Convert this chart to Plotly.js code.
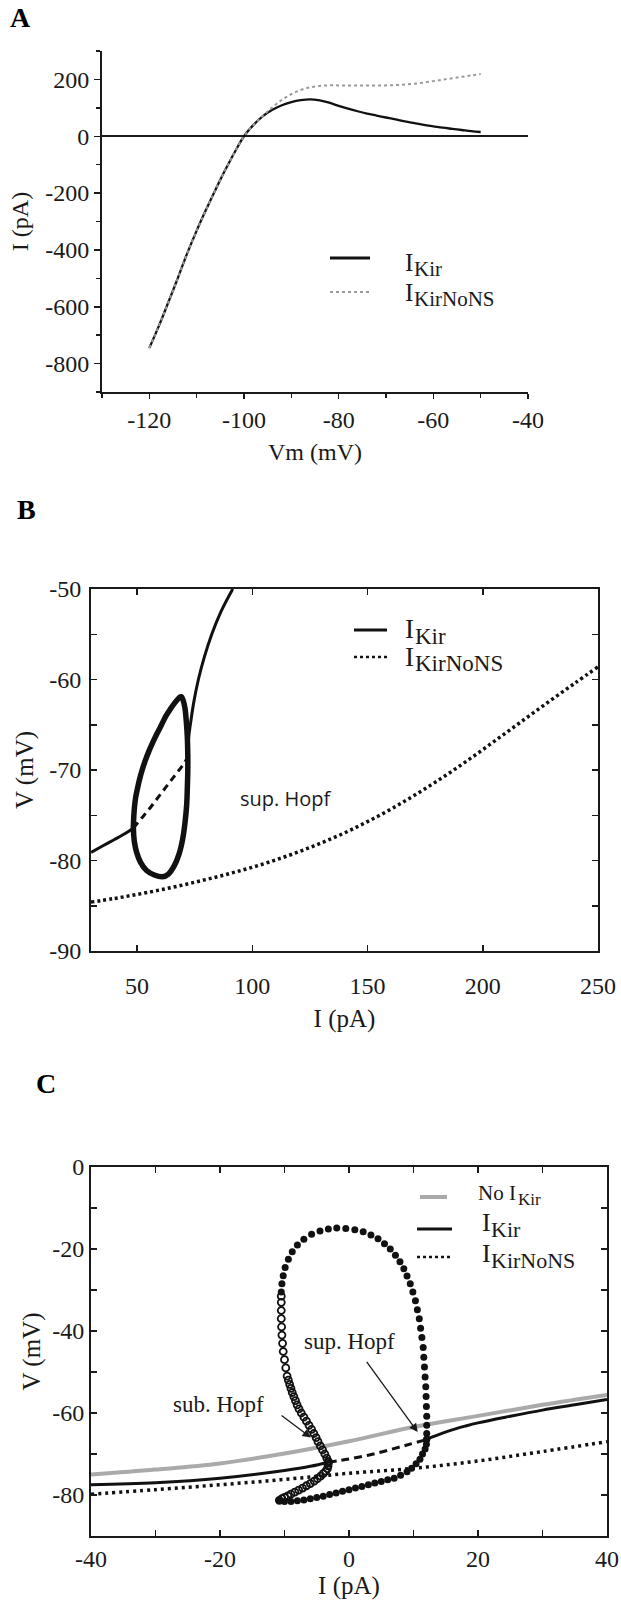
<!DOCTYPE html>
<html>
<head>
<meta charset="utf-8">
<script src="https://cdn.plot.ly/plotly-3.0.1.min.js"></script>
<style>html,body{margin:0;padding:0;background:#fff}</style>
</head>
<body>
<div id="chart" style="width:621px;height:1600px"></div>
<script>
// ---------- Panel A : I-V curves ----------
const vmA = [-120,-118,-116,-114,-112,-110,-108,-106,-104,-102,-100,-98,-96,-94,-92,-90,-88,-86,-84,-82,-80,-78,-76,-74,-72,-70,-68,-66,-64,-62,-60,-58,-56,-54,-52,-50];
const iKirA = [-745,-668,-585,-500,-412,-332,-258,-187,-120,-57,0,40,71,93,109,120,127,130,126,118,107,97,88,80,73,66,59,52,46,40,35,30,26,22,18,15];
const iKirNoNSA = [-745,-668,-585,-500,-412,-332,-258,-187,-120,-57,0,40,72,102,128,148,163,172,177,179,179,179,179,179,179,179,180,182,185,189,194,199,204,209,214,219];

// ---------- Panel B : bifurcation diagram ----------
const bKirLowI = [30,35,40,45,48.4];
const bKirLowV = [-79.1,-78.4,-77.7,-77.0,-76.4];
const bKirUnstI = [48.4,52,55,58,61,64,67,70,72];
const bKirUnstV = [-76.4,-75.3,-74.4,-73.4,-72.4,-71.4,-70.4,-69.4,-68.6];
const bKirUpI = [72,72.4,73.1,74.6,76.6,79.2,82.4,86.4,91.5];
const bKirUpV = [-68.3,-66.4,-65,-62.5,-60,-57.5,-55,-52.5,-50];
const bCycleI = [48.4,48.6,48.9,49.4,50.2,51.1,52.2,53.5,55,56.7,58.6,60.6,62.6,64.6,66.6,68.3,69.2,70,70.8,71.4,71.8,72,72,71.8,71.5,70.8,69.8,68.2,66.1,63.6,61,57.5,54.1,51.5,49.8,48.8,48.4];
const bCycleV = [-76.4,-75,-74,-73,-72,-71,-70,-69,-68,-67,-66,-65,-64,-63.2,-62.5,-62,-61.9,-62.3,-63.2,-64.8,-66.4,-68.3,-70.1,-72,-73.9,-75.8,-77.6,-79.3,-80.6,-81.5,-81.8,-81.6,-81.1,-80.2,-79.1,-77.9,-76.4];
const bNoNSI = [30,40,50,60,70,80,90,100,110,120,130,140,150,160,170,180,190,200,210,220,230,240,250];
const bNoNSV = [-84.6,-84.2,-83.75,-83.25,-82.7,-82.1,-81.45,-80.75,-79.95,-79.05,-78.05,-76.95,-75.7,-74.35,-72.85,-71.25,-69.55,-67.75,-65.9,-64.05,-62.2,-60.4,-58.6];

// ---------- Panel C : bifurcation diagram ----------
const cNoKirI = [-40,-30,-20,-10,0,10,20,30,40];
const cNoKirV = [-75.0,-73.8,-72.3,-69.9,-66.9,-63.4,-60.7,-58.0,-55.6];
const cKirLowI = [-40,-30,-20,-10,-6,-3.2];
const cKirLowV = [-77.5,-77.0,-75.9,-74.0,-73.0,-72.0];
const cKirUnstI = [-3.2,0,3,6,9,12];
const cKirUnstV = [-72.0,-71.2,-70.3,-69.1,-67.8,-66.5];
const cKirUpI = [12,14,16,18,20,25,30,35,40];
const cKirUpV = [-66.4,-65.2,-64.1,-63.2,-62.4,-60.8,-59.3,-58.0,-56.7];
const cNoNSI = [-40,-30,-20,-10,0,10,20,30,40];
const cNoNSV = [-79.8,-78.7,-77.5,-76.2,-74.7,-73.5,-71.7,-69.4,-67.0];
// limit cycle: maximum / minimum of V, stable (filled) and unstable (open)
const cMaxStableI = [-10.5,-10.4,-10.2,-9.9,-9.4,-8.8,-8.0,-7.0,-5.8,-4.5,-3.2,-1.9,-0.5,0.9,2.2,3.4,4.5,5.5,6.4,7.2,7.9,8.5,9.0,9.5,9.9,10.3,10.6,10.9,11.1,11.3,11.5,11.6,11.7,11.8,11.9,11.95,12.0,12.05,12.05,12.05,12.05];
const cMaxStableV = [-30.5,-28.5,-26.5,-24.5,-22.5,-20.7,-19.0,-17.6,-16.4,-15.6,-15.1,-14.9,-15.0,-15.3,-15.8,-16.6,-17.5,-18.7,-20.0,-21.5,-23.1,-24.8,-26.6,-28.5,-30.5,-32.6,-34.8,-37.0,-39.3,-41.6,-44.0,-46.4,-48.8,-51.2,-53.6,-56.0,-58.4,-60.8,-63.0,-65.0,-66.4];
const cMaxUnstI = [-3.2,-3.45,-3.75,-4.1,-4.45,-4.8,-5.1,-5.45,-5.8,-6.2,-6.6,-7.0,-7.4,-7.75,-8.05,-8.3,-8.55,-8.8,-9.0,-9.2,-9.4,-9.6,-9.8,-10.0,-10.2,-10.3,-10.4,-10.45,-10.5,-10.5,-10.5,-10.5];
const cMaxUnstV = [-71.8,-71,-70,-69,-68,-67,-66,-65,-64,-63,-62,-61,-60,-59,-58,-57,-56,-55,-54,-53,-52,-51,-49,-47,-45,-43,-41,-39,-37,-35,-33,-31.5];
const cMinUnstI = [-3.2,-3.25,-3.35,-3.6,-4.0,-4.4,-4.9,-5.4,-6.0,-6.6,-7.2,-7.8,-8.4,-9.0,-9.5,-10.0,-10.4,-10.8];
const cMinUnstV = [-72.2,-72.9,-73.6,-74.2,-74.8,-75.4,-76.0,-76.6,-77.2,-77.75,-78.3,-78.8,-79.3,-79.8,-80.2,-80.6,-80.9,-81.3];
const cMinStableI = [-10.8,-10.0,-9.0,-8.0,-7.0,-6.0,-5.0,-4.0,-3.0,-2.0,-1.0,0.0,1.0,2.0,3.0,4.0,5.0,6.0,7.0,8.0,9.0,9.7,10.4,11.0,11.4,11.8,12.0,12.05];
const cMinStableV = [-81.3,-81.6,-81.6,-81.4,-81.2,-80.9,-80.6,-80.3,-79.9,-79.5,-79.1,-78.7,-78.3,-77.9,-77.5,-77.1,-76.7,-76.3,-75.9,-75.2,-74.3,-73.5,-72.4,-71.3,-70.0,-68.8,-67.6,-66.4];

// ---------- tick labels ----------
const aXTicks = [-120,-100,-80,-60,-40];
const aXLabels = ['-120','-100','-80','-60','-40'];
const aXMinor = [-130,-110,-90,-70,-50];
const aYTicks = [-800,-600,-400,-200,0,200];
const aYLabels = ['-800','-600','-400','-200','0','200'];
const aYMinor = [-900,-700,-500,-300,-100,100,300];
const bXTicks = [50,100,150,200,250];
const bXLabels = ['50','100','150','200','250'];
const bYTicks = [-90,-80,-70,-60,-50];
const bYLabels = ['-90','-80','-70','-60','-50'];
const bYMinor = [-85,-75,-65,-55];
const cXTicks = [-40,-20,0,20,40];
const cXLabels = ['-40','-20','0','20','40'];
const cXMinor = [-30,-10,10,30];
const cYTicks = [-80,-60,-40,-20,0];
const cYLabels = ['-80','-60','-40','-20','0'];
const cYMinor = [-90,-70,-50,-30,-10];

const W = 621, H = 1600;
const px = x => x / W;
const py = y => 1 - y / H;
const SERIF = 'Liberation Serif, Times New Roman, serif';
const INK = '#1a1a1a';

const traces = [
  // A
  {x: vmA, y: iKirA, xaxis:'x', yaxis:'y', mode:'lines', line:{color:'#111', width:2.3, shape:'spline', smoothing:1}, name:'IKir'},
  {x: vmA, y: iKirNoNSA, xaxis:'x', yaxis:'y', mode:'lines', line:{color:'#9a9a9a', width:2, dash:'3px,3px', shape:'spline', smoothing:1}, name:'IKirNoNS'},
  // B
  {x: bNoNSI, y: bNoNSV, xaxis:'x2', yaxis:'y2', mode:'lines', line:{color:'#111', width:3.5, dash:'3px,3px', shape:'spline'}},
  {x: bKirLowI, y: bKirLowV, xaxis:'x2', yaxis:'y2', mode:'lines', line:{color:'#111', width:3, shape:'spline'}},
  {x: bKirUnstI, y: bKirUnstV, xaxis:'x2', yaxis:'y2', mode:'lines', line:{color:'#111', width:3, dash:'7px,5px', shape:'spline'}},
  {x: bKirUpI, y: bKirUpV, xaxis:'x2', yaxis:'y2', mode:'lines', line:{color:'#111', width:3, shape:'spline'}},
  {x: bCycleI, y: bCycleV, xaxis:'x2', yaxis:'y2', mode:'lines', line:{color:'#111', width:5.5, shape:'spline'}},
  // C
  {x: cNoKirI, y: cNoKirV, xaxis:'x3', yaxis:'y3', mode:'lines', line:{color:'#aaaaaa', width:4, shape:'spline'}},
  {x: cNoNSI, y: cNoNSV, xaxis:'x3', yaxis:'y3', mode:'lines', line:{color:'#111', width:3.5, dash:'3px,4px', shape:'spline'}},
  {x: cKirLowI, y: cKirLowV, xaxis:'x3', yaxis:'y3', mode:'lines', line:{color:'#111', width:3, shape:'spline'}},
  {x: cKirUnstI, y: cKirUnstV, xaxis:'x3', yaxis:'y3', mode:'lines', line:{color:'#111', width:3, dash:'8px,5px', shape:'spline'}},
  {x: cKirUpI, y: cKirUpV, xaxis:'x3', yaxis:'y3', mode:'lines', line:{color:'#111', width:3, shape:'spline'}},
  {x: cMinUnstI, y: cMinUnstV, xaxis:'x3', yaxis:'y3', mode:'markers', marker:{symbol:'circle-open', size:7, color:'#111', line:{width:1.8}}},
  {x: cMaxUnstI, y: cMaxUnstV, xaxis:'x3', yaxis:'y3', mode:'markers', marker:{symbol:'circle-open', size:7, color:'#111', line:{width:1.8}}},
  {x: cMaxStableI, y: cMaxStableV, xaxis:'x3', yaxis:'y3', mode:'markers', marker:{symbol:'circle', size:7, color:'#111'}},
  {x: cMinStableI, y: cMinStableV, xaxis:'x3', yaxis:'y3', mode:'markers', marker:{symbol:'circle', size:7, color:'#111'}}
];

function axisBase(extra) {
  return Object.assign({
    showgrid:false, zeroline:false, showline:true, linecolor:INK, linewidth:2,
    tickcolor:INK, tickwidth:1.5, ticks:'outside', ticklen:6,
    tickmode:'array', tickfont:{family:SERIF, size:24, color:INK},
    fixedrange:true
  }, extra);
}
function minorTicks(vals, dir, len) {
  return {tickmode:'array', tickvals:vals, ticks:dir, ticklen:len, tickwidth:1.5, tickcolor:INK};
}
function ttl(text, size, standoff) {
  return {text:text, font:{family:SERIF, size:size, color:INK}, standoff:standoff};
}

// legend text pieces: main letter + subscript, baseline placed explicitly
function txt(text, xPx, baselinePx, size) {
  return {text:text, xref:'paper', yref:'paper', x:px(xPx), y:py(baselinePx - 0.338*size),
          xanchor:'left', yanchor:'middle', showarrow:false, font:{family:SERIF, size:size, color:INK}};
}
function panelLabel(text, xPx, yPx) {
  return {text:'<b>'+text+'</b>', xref:'paper', yref:'paper', x:px(xPx), y:py(yPx),
          xanchor:'center', yanchor:'middle', showarrow:false, font:{family:SERIF, size:28, color:'#000'}};
}

const layout = {
  width: W, height: H,
  margin:{l:0, r:0, t:0, b:0},
  showlegend:false,
  paper_bgcolor:'#ffffff', plot_bgcolor:'rgba(0,0,0,0)',
  font:{family:SERIF, color:INK, size:22},
  // A
  xaxis: axisBase({domain:[px(102), px(528)], anchor:'y', range:[-130,-40], tickvals:aXTicks, ticktext:aXLabels, ticklen:5,
    minor:minorTicks(aXMinor,'outside',4), title:ttl('Vm (mV)', 24, 11)}),
  yaxis: axisBase({domain:[py(392), py(51)], anchor:'x', range:[-900,300], tickvals:aYTicks, ticktext:aYLabels, ticklen:6,
    zeroline:true, zerolinecolor:INK, zerolinewidth:1.6,
    minor:minorTicks(aYMinor,'outside',4), title:ttl('I (pA)', 24, 10)}),
  // B
  xaxis2: axisBase({domain:[px(91), px(598)], anchor:'y2', range:[30,250], tickvals:bXTicks, ticktext:bXLabels, ticks:'inside', mirror:'ticks',
    ticklabelstandoff:12, title:ttl('I (pA)', 25, 12)}),
  yaxis2: axisBase({domain:[py(951), py(589)], anchor:'x2', range:[-90,-50], tickvals:bYTicks, ticktext:bYLabels, ticks:'inside', mirror:'ticks',
    ticklabelstandoff:3, minor:minorTicks(bYMinor,'inside',6), title:ttl('V (mV)', 25, 8)}),
  // C
  xaxis3: axisBase({domain:[px(91), px(607)], anchor:'y3', range:[-40,40], tickvals:cXTicks, ticktext:cXLabels, ticks:'inside', mirror:'ticks',
    minor:minorTicks(cXMinor,'inside',6), title:ttl('I (pA)', 25, 6)}),
  yaxis3: axisBase({domain:[py(1536), py(1167)], anchor:'x3', range:[-90,0], tickvals:cYTicks, ticktext:cYLabels, ticks:'inside', mirror:'ticks',
    minor:minorTicks(cYMinor,'inside',6), title:ttl('V (mV)', 25, 4)}),
  shapes: [
    // legend A samples
    {type:'line', xref:'paper', yref:'paper', x0:px(330), x1:px(370), y0:py(258), y1:py(258), line:{color:'#111', width:2.8}},
    {type:'line', xref:'paper', yref:'paper', x0:px(330), x1:px(370), y0:py(292), y1:py(292), line:{color:'#9a9a9a', width:2, dash:'3px,3px'}},
    // legend B samples
    {type:'line', xref:'paper', yref:'paper', x0:px(354), x1:px(387), y0:py(630), y1:py(630), line:{color:'#111', width:3}},
    {type:'line', xref:'paper', yref:'paper', x0:px(354), x1:px(387), y0:py(657), y1:py(657), line:{color:'#111', width:2.5, dash:'3px,3px'}},
    // legend C samples
    {type:'line', xref:'paper', yref:'paper', x0:px(420), x1:px(447), y0:py(1197), y1:py(1197), line:{color:'#aaaaaa', width:4}},
    {type:'line', xref:'paper', yref:'paper', x0:px(417), x1:px(452), y0:py(1229), y1:py(1229), line:{color:'#111', width:3}},
    {type:'line', xref:'paper', yref:'paper', x0:px(417), x1:px(452), y0:py(1257), y1:py(1257), line:{color:'#111', width:2.5, dash:'3px,3px'}}
  ],
  annotations: [
    panelLabel('A', 20, 18), panelLabel('B', 26, 510), panelLabel('C', 46, 1083),
    // legend A
    txt('I', 403, 271, 25), txt('Kir', 412, 276, 21),
    txt('I', 403, 301, 25), txt('KirNoNS', 412, 306, 21),
    // legend B
    txt('I', 403, 638, 27), txt('Kir', 413, 644, 23),
    txt('I', 403, 666, 27), txt('KirNoNS', 413, 671, 23),
    // legend C
    txt('No I', 476, 1200, 21), txt('Kir', 516, 1205, 17),
    txt('I', 480, 1231, 26), txt('Kir', 489, 1237, 22),
    txt('I', 480, 1262, 26), txt('KirNoNS', 489, 1268, 22),
    // B annotation
    {text:'sup. Hopf', xref:'x2', yref:'y2', x:114.4, y:-73.1, xanchor:'center', showarrow:false, font:{family:'Open Sans, Liberation Sans, sans-serif', size:20, color:INK}},
    // C annotations
    {text:'sub. Hopf', xref:'x3', yref:'y3', x:-20.2, y:-58.0, xanchor:'center', showarrow:false, font:{family:SERIF, size:23, color:INK}},
    {text:'sup. Hopf', xref:'x3', yref:'y3', x:0.0, y:-42.5, xanchor:'center', showarrow:false, font:{family:SERIF, size:23, color:INK}},
    {xref:'x3', yref:'y3', x:-5.9, y:-66.0, axref:'x3', ayref:'y3', ax:-11.15, ay:-59.8, showarrow:true, arrowhead:2, arrowsize:1.3, arrowwidth:1.3, arrowcolor:INK},
    {xref:'x3', yref:'y3', x:10.65, y:-64.65, axref:'x3', ayref:'y3', ax:2.05, ay:-46.0, showarrow:true, arrowhead:2, arrowsize:1.3, arrowwidth:1.3, arrowcolor:INK}
  ]
};

Plotly.newPlot('chart', traces, layout, {staticPlot:true, displayModeBar:false});
</script>
</body>
</html>
